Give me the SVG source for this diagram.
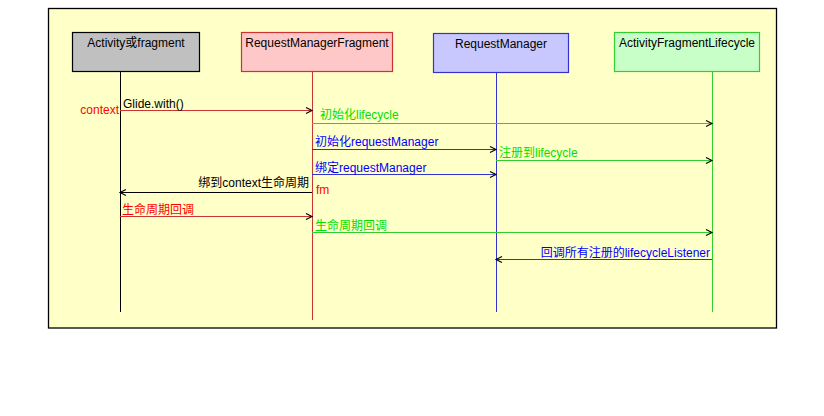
<svg xmlns="http://www.w3.org/2000/svg" width="824" height="416" viewBox="0 0 824 416">
<defs>
<style>
text{font-family:"Liberation Sans","Noto Sans CJK SC",Arial,sans-serif;font-size:12px}
.node{stroke-width:1.2}
.ll{stroke-width:1;fill:none}
.msg{stroke-width:1;fill:none;marker-end:url(#arr)}
.r{fill:#FF0000}.g{fill:#00E000}.b{fill:#0000FF}.k{fill:#000}
</style>
<marker id="arr" markerUnits="userSpaceOnUse" markerWidth="10" markerHeight="10" viewBox="-8 -5 10 10" refX="0" refY="0" orient="auto">
<path d="M-6,-3 L0,0 L-6,3" fill="none" stroke="#000" stroke-width="1.1"/>
</marker>
</defs>
<rect width="824" height="416" fill="#fff"/>
<rect x="48.5" y="8.5" width="728" height="319.5" fill="#FFFFC8" stroke="#000" stroke-width="1.3"/>
<g id="lifelines">
<line class="ll" x1="120.5" y1="71" x2="120.5" y2="312" stroke="#000"/>
<line class="ll" x1="312.5" y1="71" x2="312.5" y2="320" stroke="#CC3333"/>
<line class="ll" x1="496.5" y1="72" x2="496.5" y2="312" stroke="#3333CC"/>
<line class="ll" x1="712.5" y1="71" x2="712.5" y2="312" stroke="#33CC33"/>
</g>
<g id="n1"><rect class="node" x="72.5" y="32.5" width="127" height="39" fill="#C0C0C0" stroke="#000"/><text x="136" y="47" text-anchor="middle">Activity或fragment</text></g>
<g id="n2"><rect class="node" x="241.5" y="32.5" width="151" height="39" fill="#FFC8C8" stroke="#CC3333"/><text x="317" y="47" text-anchor="middle">RequestManagerFragment</text></g>
<g id="n3"><rect class="node" x="433.5" y="33.5" width="135" height="39" fill="#C8C8FF" stroke="#3333CC"/><text x="501" y="48" text-anchor="middle">RequestManager</text></g>
<g id="n4"><rect class="node" x="614.5" y="32.5" width="145" height="39" fill="#C8FFC8" stroke="#33CC33"/><text x="687" y="47" text-anchor="middle">ActivityFragmentLifecycle</text></g>
<g id="connectors">
<line class="msg" x1="120" y1="110.5" x2="312" y2="110.5" stroke="#CC3333"/>
<line class="msg" x1="312" y1="123.5" x2="712" y2="123.5" stroke="#33CC33"/>
<line class="msg" x1="312" y1="149.5" x2="496" y2="149.5" stroke="#3333CC"/>
<line class="msg" x1="496" y1="160.5" x2="712" y2="160.5" stroke="#33CC33"/>
<line class="msg" x1="312" y1="174.5" x2="496" y2="174.5" stroke="#3333CC"/>
<line class="msg" x1="312" y1="192.5" x2="120" y2="192.5" stroke="#000"/>
<line class="msg" x1="120" y1="216.5" x2="312" y2="216.5" stroke="#CC3333"/>
<line class="msg" x1="312" y1="232.5" x2="712" y2="232.5" stroke="#33CC33"/>
<line class="msg" x1="712" y1="259.5" x2="496" y2="259.5" stroke="#3333CC"/>
</g>
<g id="labels">
<text class="k" x="123" y="108">Glide.with()</text>
<text class="r" x="119" y="114" text-anchor="end">context</text>
<text class="g" x="320" y="119">初始化lifecycle</text>
<text class="b" x="315" y="146">初始化requestManager</text>
<text class="g" x="499" y="157">注册到lifecycle</text>
<text class="b" x="315" y="171.5">绑定requestManager</text>
<text class="k" x="309" y="187" text-anchor="end">绑到context生命周期</text>
<text class="r" x="316" y="194">fm</text>
<text class="r" x="122" y="213.5">生命周期回调</text>
<text class="g" x="315" y="229.5">生命周期回调</text>
<text class="b" x="710" y="256.5" text-anchor="end">回调所有注册的lifecycleListener</text>
</g>
</svg>
